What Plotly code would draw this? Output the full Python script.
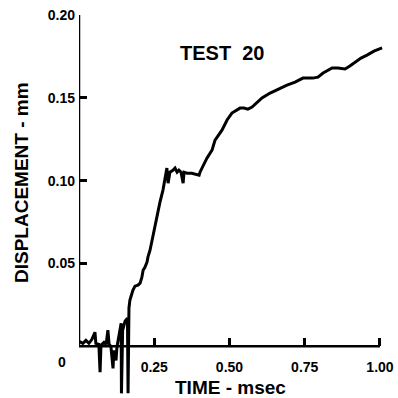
import plotly.graph_objects as go

# Data (time in msec, displacement in mm)
time_ms = [0.000, 0.013, 0.023, 0.033, 0.043, 0.053, 0.056, 0.066, 0.070, 0.073,
           0.083, 0.090, 0.096, 0.100, 0.106, 0.113, 0.116, 0.123, 0.126, 0.133,
           0.140, 0.141, 0.145, 0.153, 0.161, 0.163, 0.165, 0.166, 0.169, 0.179,
           0.186, 0.196, 0.203, 0.209, 0.213, 0.219, 0.226, 0.229, 0.236, 0.246,
           0.252, 0.262, 0.269, 0.279, 0.282, 0.289, 0.292, 0.296, 0.302, 0.312,
           0.319, 0.326, 0.332, 0.339, 0.346, 0.349, 0.359, 0.375, 0.392, 0.399,
           0.402, 0.412, 0.425, 0.442, 0.452, 0.475, 0.492, 0.508, 0.522, 0.535,
           0.548, 0.561, 0.575, 0.591, 0.608, 0.635, 0.668, 0.691, 0.718, 0.744,
           0.777, 0.794, 0.811, 0.841, 0.860, 0.884, 0.900, 0.917, 0.937, 0.957,
           0.980, 1.007]
displacement_mm = [0.0030, 0.0018, 0.0036, 0.0018, 0.0042, 0.0085, 0.0018, 0.0012, -0.0157, 0.0006,
                   0.0024, 0.0012, 0.0097, 0.0012, 0.0000, -0.0133, -0.0024, -0.0085, -0.0006, 0.0066,
                   0.0139, -0.0284, 0.0097, 0.0151, 0.0169, -0.0284, 0.0181, 0.0230, 0.0278, 0.0338,
                   0.0363, 0.0369, 0.0381, 0.0417, 0.0459, 0.0477, 0.0508, 0.0538, 0.0580, 0.0671,
                   0.0719, 0.0804, 0.0870, 0.0943, 0.0973, 0.1051, 0.1076, 0.0985, 0.1051, 0.1063,
                   0.1076, 0.1051, 0.1063, 0.1051, 0.0985, 0.1051, 0.1045, 0.1045, 0.1039, 0.1033,
                   0.1051, 0.1088, 0.1136, 0.1184, 0.1245, 0.1305, 0.1366, 0.1408, 0.1426, 0.1438,
                   0.1438, 0.1432, 0.1444, 0.1468, 0.1499, 0.1529, 0.1559, 0.1577, 0.1595, 0.1619,
                   0.1619, 0.1625, 0.1650, 0.1680, 0.1680, 0.1674, 0.1692, 0.1716, 0.1740, 0.1758,
                   0.1782, 0.1801]

x_tick_vals = [0.25, 0.50, 0.75, 1.00]
x_tick_text = ["0.25", "0.50", "0.75", "1.00"]
y_tick_vals = [0.05, 0.10, 0.15, 0.20]
y_tick_text = ["0.05", "0.10", "0.15", "0.20"]

title_text = "TEST  20"
x_title = "TIME - msec"
y_title = "DISPLACEMENT - mm"

X_RANGE = [0, 1.02]
Y_RANGE = [-0.03, 0.2]

FONT = "Liberation Sans"

fig = go.Figure()
fig.add_trace(go.Scatter(
    x=time_ms, y=displacement_mm, mode="lines",
    line=dict(color="black", width=3),
    showlegend=False, hoverinfo="skip",
))

# zero position of x-axis within the plot area
zero_pos = (0 - Y_RANGE[0]) / (Y_RANGE[1] - Y_RANGE[0])

fig.update_layout(
    width=398, height=398,
    margin=dict(l=79, r=12, t=15, b=2, autoexpand=False),
    paper_bgcolor="white", plot_bgcolor="white",
    font=dict(family=FONT, color="black"),
    xaxis=dict(
        range=X_RANGE, showgrid=False, zeroline=False, showline=False,
        tickvals=x_tick_vals, ticktext=x_tick_text,
        ticks="inside", ticklen=8, tickwidth=2.5, tickcolor="black",
        tickfont=dict(family=FONT, size=14, weight="bold", color="black"),
        anchor="free", position=zero_pos, ticklabelstandoff=11,
        automargin=False,
    ),
    yaxis=dict(
        range=Y_RANGE, showgrid=False, zeroline=False, showline=False,
        tickvals=y_tick_vals, ticktext=y_tick_text,
        ticks="inside", ticklen=8, tickwidth=2.5, tickcolor="black",
        tickfont=dict(family=FONT, size=14, weight="bold", color="black"),
        ticklabelstandoff=3,
        automargin=False,
    ),
    shapes=[
        dict(type="line", xref="x", yref="y", x0=0, x1=0, y0=0, y1=Y_RANGE[1],
             line=dict(color="black", width=2.5), layer="above"),
        dict(type="line", xref="x", yref="y", x0=0, x1=1.0, y0=0, y1=0,
             line=dict(color="black", width=2.5), layer="above"),
    ],
    annotations=[
        dict(text=title_text, xref="x", yref="y", x=0.475, y=0.177,
             xanchor="center", yanchor="middle",
             showarrow=False, font=dict(family=FONT, size=20, weight="bold")),
        dict(text=x_title, xref="x", yref="y", x=0.502, y=-0.0248,
             xanchor="center", yanchor="middle",
             showarrow=False, font=dict(family=FONT, size=19, weight="bold")),
        dict(text=y_title, xref="paper", yref="paper", x=-0.1857, y=0.5617,
             xanchor="center", yanchor="middle",
             textangle=-90, showarrow=False,
             font=dict(family=FONT, size=19, weight="bold")),
        dict(text="0", xref="paper", yref="paper", x=-0.0554, y=0.0892,
             xanchor="center", yanchor="middle",
             showarrow=False, font=dict(family=FONT, size=14, weight="bold")),
    ],
)

fig.write_html("out.html", config={"displayModeBar": False},
               post_script="document.body.style.margin='0';")
